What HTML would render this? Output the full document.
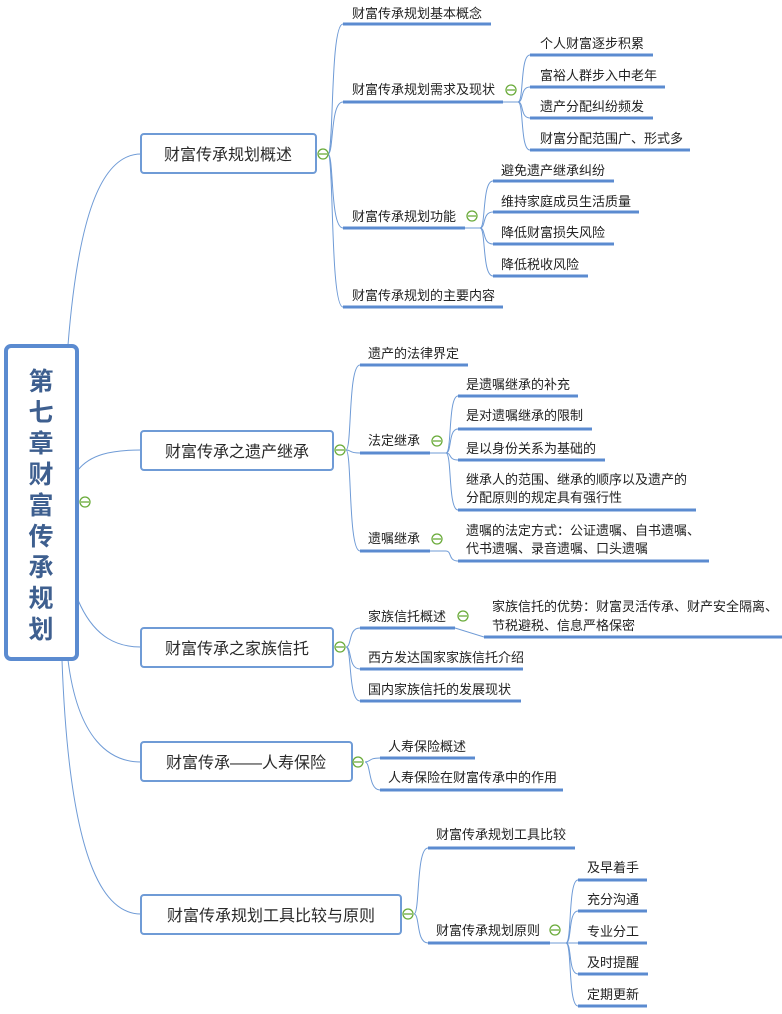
<!DOCTYPE html>
<html><head><meta charset="utf-8"><style>
html,body{margin:0;padding:0;background:#fff;}
svg{display:block}
text{font-family:"Liberation Sans","Noto Sans CJK SC",sans-serif;fill:#222;font-size:13px}
.l1{font-size:16px;fill:#2a2a2a}
.ul{stroke:#5b8bd0;stroke-width:3;fill:none}
.c{stroke:#6f9bd6;stroke-width:1;fill:none}
.bx{stroke:#6f9bd6;stroke-width:2;fill:#fff}
.mc{stroke:#6aab3a;stroke-width:1.3;fill:#fff}
.root{font-size:25px;font-weight:bold;fill:#3e5f8f}
</style></head><body>
<svg width="782" height="1014" viewBox="0 0 782 1014">
<!-- root connectors -->
<path class="c" d="M68,345 C78,220 100,154 141,154"/>
<path class="c" d="M78,470 C90,455 110,450 141,450"/>
<path class="c" d="M78,600 C95,640 120,647 141,647"/>
<path class="c" d="M68,660 C78,740 110,762 141,762"/>
<path class="c" d="M62,660 C70,880 110,914 141,914"/>
<!-- root -->
<rect x="6" y="346" width="71" height="313" rx="5" fill="#fff" stroke="#5b8bd0" stroke-width="4"/>
<g class="root" text-anchor="middle">
<text class="root" x="41" y="390">第</text>
<text class="root" x="41" y="421">七</text>
<text class="root" x="41" y="452">章</text>
<text class="root" x="41" y="483">财</text>
<text class="root" x="41" y="514">富</text>
<text class="root" x="41" y="545">传</text>
<text class="root" x="41" y="576">承</text>
<text class="root" x="41" y="607">规</text>
<text class="root" x="41" y="638">划</text>
</g>
<circle class="mc" cx="85" cy="502" r="5"/><line x1="81" y1="502" x2="89" y2="502" stroke="#6aab3a" stroke-width="1.3"/>

<!-- Level 1 boxes -->
<rect class="bx" x="141" y="134" width="175" height="39" rx="3"/><text class="l1" x="228" y="160" text-anchor="middle">财富传承规划概述</text>
<rect class="bx" x="141" y="431" width="192" height="39" rx="3"/><text class="l1" x="237" y="457" text-anchor="middle">财富传承之遗产继承</text>
<rect class="bx" x="141" y="628" width="192" height="39" rx="3"/><text class="l1" x="237" y="654" text-anchor="middle">财富传承之家族信托</text>
<rect class="bx" x="141" y="742" width="211" height="39" rx="3"/><text class="l1" x="246" y="768" text-anchor="middle">财富传承——人寿保险</text>
<rect class="bx" x="141" y="895" width="260" height="39" rx="3"/><text class="l1" x="271" y="921" text-anchor="middle">财富传承规划工具比较与原则</text>

<!-- Branch 1 -->
<path class="c" d="M328,154 C334,154 330,24 343,24"/>
<path class="c" d="M328,154 C334,154 330,102 343,102"/>
<path class="c" d="M328,154 C334,154 330,228 343,228"/>
<path class="c" d="M328,154 C334,154 330,307 343,307"/>
<line class="ul" x1="343" y1="24" x2="491" y2="24"/><text x="352" y="18">财富传承规划基本概念</text>
<line class="ul" x1="343" y1="102" x2="503" y2="102"/><line class="c" x1="503" y1="102" x2="518" y2="102"/><text x="352" y="94">财富传承规划需求及现状</text>
<line class="ul" x1="343" y1="228" x2="465" y2="228"/><line class="c" x1="465" y1="228" x2="480" y2="228"/><text x="352" y="221">财富传承规划功能</text>
<line class="ul" x1="343" y1="307" x2="503" y2="307"/><text x="352" y="300">财富传承规划的主要内容</text>
<g><path class="c" d="M518,102 C524,102 520,55 530,55"/><path class="c" d="M518,102 C524,102 520,87 530,87"/><path class="c" d="M518,102 C524,102 520,118 530,118"/><path class="c" d="M518,102 C524,102 520,150 530,150"/></g>
<line class="ul" x1="530" y1="55" x2="653" y2="55"/><text x="540" y="48">个人财富逐步积累</text>
<line class="ul" x1="530" y1="87" x2="665" y2="87"/><text x="540" y="80">富裕人群步入中老年</text>
<line class="ul" x1="530" y1="118" x2="653" y2="118"/><text x="540" y="111">遗产分配纠纷频发</text>
<line class="ul" x1="530" y1="150" x2="690" y2="150"/><text x="540" y="143">财富分配范围广、形式多</text>
<g><path class="c" d="M480,228 C486,228 482,181 493,181"/><path class="c" d="M480,228 C486,228 482,212 493,212"/><path class="c" d="M480,228 C486,228 482,244 493,244"/><path class="c" d="M480,228 C486,228 482,276 493,276"/></g>
<line class="ul" x1="493" y1="181" x2="614" y2="181"/><text x="501" y="175">避免遗产继承纠纷</text>
<line class="ul" x1="493" y1="212" x2="639" y2="212"/><text x="501" y="206">维持家庭成员生活质量</text>
<line class="ul" x1="493" y1="244" x2="614" y2="244"/><text x="501" y="237">降低财富损失风险</text>
<line class="ul" x1="493" y1="276" x2="588" y2="276"/><text x="501" y="269">降低税收风险</text>

<!-- Branch 2 -->
<path class="c" d="M346,450 C352,450 348,365 360,365"/>
<path class="c" d="M346,450 C352,450 348,453 360,453"/>
<path class="c" d="M346,450 C352,450 348,551 360,551"/>
<line class="ul" x1="360" y1="365" x2="468" y2="365"/><text x="368" y="358">遗产的法律界定</text>
<line class="ul" x1="360" y1="453" x2="430" y2="453"/><line class="c" x1="430" y1="453" x2="446" y2="453"/><text x="368" y="445">法定继承</text>
<line class="ul" x1="360" y1="551" x2="430" y2="551"/><line class="c" x1="430" y1="551" x2="446" y2="551"/><text x="368" y="543">遗嘱继承</text>
<g><path class="c" d="M446,453 C452,453 448,396 458,396"/><path class="c" d="M446,453 C452,453 448,429 458,429"/><path class="c" d="M446,453 C452,453 448,460 458,460"/><path class="c" d="M446,453 C452,453 448,510 458,510"/><path class="c" d="M446,551 C452,551 448,561 458,561"/></g>
<line class="ul" x1="458" y1="396" x2="578" y2="396"/><text x="466" y="389">是遗嘱继承的补充</text>
<line class="ul" x1="458" y1="429" x2="592" y2="429"/><text x="466" y="420">是对遗嘱继承的限制</text>
<line class="ul" x1="458" y1="460" x2="605" y2="460"/><text x="466" y="453">是以身份关系为基础的</text>
<line class="ul" x1="458" y1="510" x2="696" y2="510"/><text x="466" y="484">继承人的范围、继承的顺序以及遗产的</text><text x="466" y="502">分配原则的规定具有强行性</text>
<line class="ul" x1="458" y1="561" x2="709" y2="561"/><text x="466" y="535">遗嘱的法定方式：公证遗嘱、自书遗嘱、</text><text x="466" y="553">代书遗嘱、录音遗嘱、口头遗嘱</text>

<!-- Branch 3 -->
<path class="c" d="M346,647 C352,647 348,628 360,628"/>
<path class="c" d="M346,647 C352,647 348,669 360,669"/>
<path class="c" d="M346,647 C352,647 348,701 360,701"/>
<line class="ul" x1="360" y1="628" x2="455" y2="628"/><line class="c" x1="455" y1="628" x2="484" y2="637"/><text x="368" y="621">家族信托概述</text>
<line class="ul" x1="360" y1="669" x2="523" y2="669"/><text x="368" y="662">西方发达国家家族信托介绍</text>
<line class="ul" x1="360" y1="701" x2="521" y2="701"/><text x="368" y="694">国内家族信托的发展现状</text>
<line class="ul" x1="484" y1="637" x2="782" y2="637"/><text x="492" y="611">家族信托的优势：财富灵活传承、财产安全隔离、</text><text x="492" y="630">节税避税、信息严格保密</text>

<!-- Branch 4 -->
<path class="c" d="M365,762 C371,762 368,758 380,758"/>
<path class="c" d="M365,762 C371,762 368,790 380,790"/>
<line class="ul" x1="380" y1="758" x2="475" y2="758"/><text x="388" y="751">人寿保险概述</text>
<line class="ul" x1="380" y1="790" x2="563" y2="790"/><text x="388" y="782">人寿保险在财富传承中的作用</text>

<!-- Branch 5 -->
<path class="c" d="M414,914 C420,914 416,848 428,848"/>
<path class="c" d="M414,914 C420,914 416,943 428,943"/>
<line class="ul" x1="428" y1="848" x2="575" y2="848"/><text x="436" y="839">财富传承规划工具比较</text>
<line class="ul" x1="428" y1="943" x2="550" y2="943"/><line class="c" x1="550" y1="943" x2="566" y2="943"/><text x="436" y="935">财富传承规划原则</text>
<g><path class="c" d="M566,943 C572,943 568,880 578,880"/><path class="c" d="M566,943 C572,943 568,911 578,911"/><path class="c" d="M566,943 L578,943"/><path class="c" d="M566,943 C572,943 568,974 578,974"/><path class="c" d="M566,943 C572,943 568,1006 578,1006"/></g>
<line class="ul" x1="578" y1="880" x2="647" y2="880"/><text x="587" y="872">及早着手</text>
<line class="ul" x1="578" y1="911" x2="647" y2="911"/><text x="587" y="904">充分沟通</text>
<line class="ul" x1="578" y1="943" x2="647" y2="943"/><text x="587" y="936">专业分工</text>
<line class="ul" x1="578" y1="974" x2="648" y2="974"/><text x="587" y="967">及时提醒</text>
<line class="ul" x1="578" y1="1006" x2="647" y2="1006"/><text x="587" y="999">定期更新</text>

<!-- collapse markers -->
<g stroke="#6aab3a" stroke-width="1.3">
<circle class="mc" cx="323" cy="154" r="5"/><line x1="319" y1="154" x2="327" y2="154"/>
<circle class="mc" cx="340" cy="450" r="5"/><line x1="336" y1="450" x2="344" y2="450"/>
<circle class="mc" cx="340" cy="647" r="5"/><line x1="336" y1="647" x2="344" y2="647"/>
<circle class="mc" cx="358" cy="762" r="5"/><line x1="354" y1="762" x2="362" y2="762"/>
<circle class="mc" cx="408" cy="914" r="5"/><line x1="404" y1="914" x2="412" y2="914"/>
<circle class="mc" cx="511" cy="90" r="5"/><line x1="507" y1="90" x2="515" y2="90"/>
<circle class="mc" cx="472" cy="216" r="5"/><line x1="468" y1="216" x2="476" y2="216"/>
<circle class="mc" cx="437" cy="441" r="5"/><line x1="433" y1="441" x2="441" y2="441"/>
<circle class="mc" cx="437" cy="539" r="5"/><line x1="433" y1="539" x2="441" y2="539"/>
<circle class="mc" cx="463" cy="616" r="5"/><line x1="459" y1="616" x2="467" y2="616"/>
<circle class="mc" cx="555" cy="930" r="5"/><line x1="551" y1="930" x2="559" y2="930"/>
</g>
</svg>
</body></html>
